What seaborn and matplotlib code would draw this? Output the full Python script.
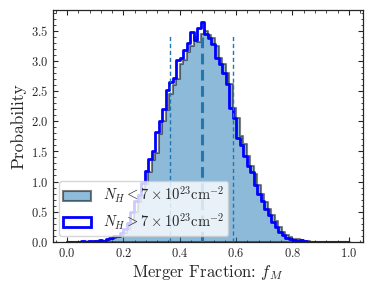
import numpy as np
import pandas as pd
import matplotlib
matplotlib.use("Agg")
import matplotlib.pyplot as plt
from matplotlib.patches import Patch
from matplotlib.ticker import AutoMinorLocator
import seaborn as sns

# Histogram bins (80 bins over [0, 1]) and per-bin probability densities
BIN_EDGES = np.linspace(0.0, 1.0, 81)

low_nh = [0.0, 0.0, 0.0, 0.0, 0.0, 0.0, 0.0, 0.005, 0.01, 0.02,
          0.02, 0.03, 0.04, 0.06, 0.08, 0.10, 0.14, 0.21, 0.32, 0.50,
          0.66, 0.78, 0.96, 1.15, 1.35, 1.48, 1.78, 2.00, 2.18, 2.45,
          2.60, 2.70, 2.95, 3.02, 3.15, 3.25, 3.40, 3.32, 3.45, 3.50,
          3.42, 3.38, 3.25, 3.05, 2.95, 2.80, 2.62, 2.22, 2.05, 1.75,
          1.62, 1.42, 1.25, 1.12, 0.95, 0.80, 0.66, 0.55, 0.44, 0.34,
          0.25, 0.17, 0.12, 0.08, 0.05, 0.04, 0.03, 0.02, 0.01, 0.005,
          0.005, 0.0, 0.0, 0.0, 0.0, 0.0, 0.0, 0.0, 0.0, 0.0]

high_nh = [0.0, 0.0, 0.0, 0.0, 0.01, 0.0, 0.01, 0.01, 0.02, 0.03,
           0.02, 0.04, 0.06, 0.09, 0.10, 0.14, 0.22, 0.32, 0.50, 0.68,
           0.78, 0.98, 1.18, 1.38, 1.50, 1.82, 2.00, 2.20, 2.52, 2.65,
           2.72, 3.02, 3.05, 3.18, 3.30, 3.48, 3.35, 3.55, 3.65, 3.45,
           3.38, 3.28, 3.05, 2.95, 2.80, 2.62, 2.22, 2.05, 1.72, 1.60,
           1.42, 1.25, 1.15, 0.95, 0.80, 0.68, 0.55, 0.45, 0.33, 0.24,
           0.17, 0.12, 0.07, 0.04, 0.03, 0.02, 0.03, 0.01, 0.005, 0.005,
           0.005, 0.0, 0.0, 0.0, 0.0, 0.005, 0.0, 0.0, 0.0, 0.0]

f_median = 0.478
f_lo, f_hi = 0.365, 0.59
line_top = 3.45

centers = 0.5 * (BIN_EDGES[:-1] + BIN_EDGES[1:])
df = pd.DataFrame({"fM": centers, "low": low_nh, "high": high_nh})
bins = list(BIN_EDGES)

sns.set_style("ticks")
plt.rcParams.update({
    "font.family": "serif",
    "font.serif": ["cmr10"],
    "mathtext.fontset": "cm",
    "axes.formatter.use_mathtext": True,
    "axes.unicode_minus": False,
    "axes.linewidth": 0.9,
    "xtick.direction": "in", "ytick.direction": "in",
    "xtick.top": True, "ytick.right": True,
    "xtick.major.size": 3.5, "ytick.major.size": 3.5,
    "xtick.minor.size": 1.8, "ytick.minor.size": 1.8,
    "xtick.minor.visible": True, "ytick.minor.visible": True,
})

fig = plt.figure(figsize=(3.73, 2.89), dpi=100)
ax = fig.add_axes([0.142, 0.163, 0.831, 0.802])

sns.histplot(data=df, x="fM", weights="low", bins=bins, stat="count",
             element="step", fill=True, color="C0", alpha=0.5,
             edgecolor=(0, 0, 0, 0.5), linewidth=1.5, ax=ax)
sns.histplot(data=df, x="fM", weights="high", bins=bins, stat="count",
             element="step", fill=False, color="blue", linewidth=2, ax=ax)

ax.vlines([f_lo, f_hi], 0, line_top, colors="C0", linestyles=(0, (3, 2)), lw=1)
ax.vlines([f_median], 0, line_top, colors="C0", linestyles=(0, (3.5, 1.8)), lw=2.2)

ax.set_xlim(-0.05, 1.05)
ax.set_ylim(0, 3.84)
ax.set_xticks([0.0, 0.2, 0.4, 0.6, 0.8, 1.0])
ax.set_yticks([0.0, 0.5, 1.0, 1.5, 2.0, 2.5, 3.0, 3.5])
ax.xaxis.set_minor_locator(AutoMinorLocator(5))
ax.yaxis.set_minor_locator(AutoMinorLocator(5))
ax.tick_params(labelsize=9, which="both")
ax.set_xlabel(r"Merger Fraction: $f_M$", fontsize=12, labelpad=2)
ax.set_ylabel("Probability", fontsize=12.5, labelpad=3)

handles = [
    Patch(facecolor=(0.12, 0.47, 0.71, 0.5), edgecolor=(0, 0, 0, 0.5), lw=1.5),
    Patch(facecolor="none", edgecolor="blue", lw=2),
]
labels = [r"$N_H < 7\times10^{23}\mathrm{cm}^{-2}$",
          r"$N_H > 7\times10^{23}\mathrm{cm}^{-2}$"]
ax.legend(handles, labels, loc="lower left", fontsize=10.5, frameon=True,
          handlelength=1.9, borderaxespad=0.4, borderpad=0.3,
          labelspacing=0.4)

fig.savefig("out.png", dpi=100)
